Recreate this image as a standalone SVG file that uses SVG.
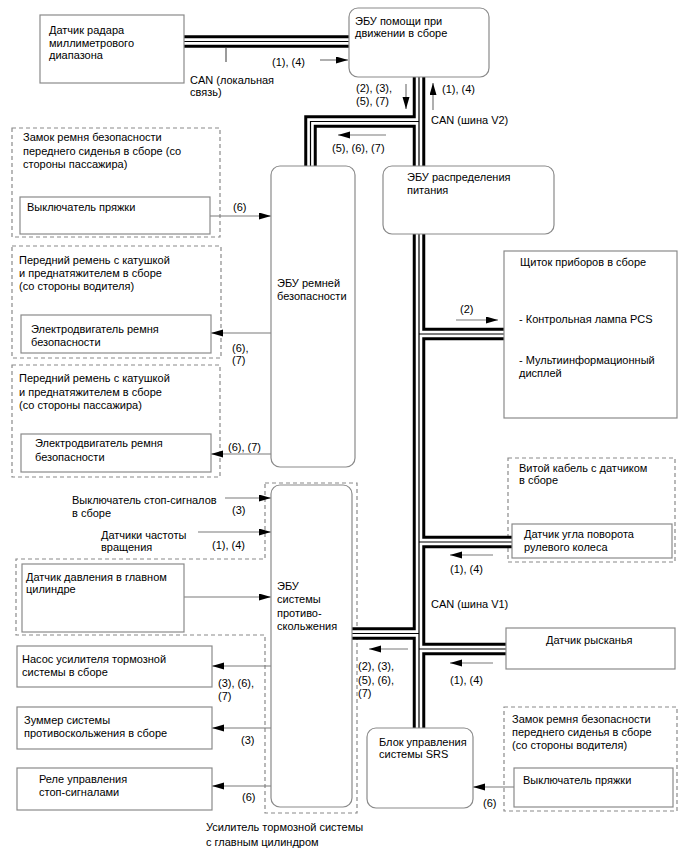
<svg xmlns="http://www.w3.org/2000/svg" xmlns:xlink="http://www.w3.org/1999/xlink" width="688" height="852" viewBox="0 0 688 852">
<style>
text { font-family: "Liberation Sans", Arial, sans-serif; font-size: 11px; fill: #000; }
.box { fill: #fff; stroke: #8a8a8a; stroke-width: 1.2; }
.dash { fill: none; stroke: #8a8a8a; stroke-width: 1.2; stroke-dasharray: 4 3; }
.arr { fill: none; stroke: #7a7a7a; stroke-width: 1.2; marker-end: url(#ah); }
.bo { fill: none; stroke: #000; stroke-width: 12.5; stroke-linejoin: miter; }
.bw { fill: none; stroke: #fff; stroke-width: 6.5; stroke-linejoin: miter; }
.bc { fill: none; stroke: #000; stroke-width: 1.2; stroke-linejoin: miter; }
.tick { stroke: #7a7a7a; stroke-width: 1.5; }
</style>
<defs>
<marker id="ah" markerUnits="userSpaceOnUse" markerWidth="13" markerHeight="8" refX="12" refY="3.5" orient="auto">
<path d="M0,0 L12,3.5 L0,7 z" fill="#000"/>
</marker>
<path id="busPath" d="M180,41.5 H352 M419,70 V735 M419,121.5 H310.5 V170 M419,334 H508 M419,542 H516 M419,649 H510 M419,633.5 H349"/>
</defs>
<rect width="688" height="852" fill="#fff"/>

<g id="dashed-groups">
<rect class="dash" x="12" y="128" width="208" height="109"/>
<rect class="dash" x="12" y="246" width="209" height="112"/>
<rect class="dash" x="12" y="365" width="208" height="112"/>
<rect class="dash" x="508" y="458" width="167" height="104"/>
<rect class="dash" x="504" y="707" width="173" height="104"/>
<path class="dash" d="M265,483 H357 V813 H265 V635 H16 V559 H265 Z"/>
</g>

<g id="connectors">
<use xlink:href="#busPath" class="bo"/>
<use xlink:href="#busPath" class="bw"/>
<use xlink:href="#busPath" class="bc"/>
<line class="tick" x1="226" y1="48" x2="226" y2="62"/>
<path class="arr" d="M320,60 H348"/>
<path class="arr" d="M406,84 V109"/>
<path class="arr" d="M433,110 V83"/>
<path class="arr" d="M386,135 H338"/>
<path class="arr" d="M210,216 H271"/>
<path class="arr" d="M271,333 H211"/>
<path class="arr" d="M271,454 H211"/>
<path class="arr" d="M456,320 H498"/>
<path class="arr" d="M493,555 H450"/>
<path class="arr" d="M493,663 H450"/>
<path class="arr" d="M408,649 H369"/>
<path class="arr" d="M514,787 H473"/>
<path class="arr" d="M225,498 H271"/>
<path class="arr" d="M198,532 H271"/>
<path class="arr" d="M184,597 H271"/>
<path class="arr" d="M271,666 H212"/>
<path class="arr" d="M271,728 H212"/>
<path class="arr" d="M271,786 H212"/>
</g>

<g id="labels">
<text x="190" y="84">CAN (локальная</text>
<text x="190" y="96">связь)</text>
<text x="272" y="66">(1), (4)</text>
<text x="356" y="92">(2), (3),</text>
<text x="356" y="104.5">(5), (7)</text>
<text x="442" y="93">(1), (4)</text>
<text x="431" y="124">CAN (шина V2)</text>
<text x="332" y="152">(5), (6), (7)</text>
<text x="233" y="211">(6)</text>
<text x="232" y="352">(6),</text>
<text x="232" y="364">(7)</text>
<text x="228" y="451">(6), (7)</text>
<text x="460" y="313">(2)</text>
<text x="450" y="573">(1), (4)</text>
<text x="431" y="608">CAN (шина V1)</text>
<text x="450" y="684">(1), (4)</text>
<text x="358" y="670">(2), (3),</text>
<text x="358" y="683.5">(5), (6),</text>
<text x="358" y="697">(7)</text>
<text x="483" y="807">(6)</text>
<text x="232" y="514">(3)</text>
<text x="212" y="549">(1), (4)</text>
<text x="218" y="687">(3), (6),</text>
<text x="218" y="700">(7)</text>
<text x="241" y="744">(3)</text>
<text x="242" y="801">(6)</text>
</g>

<g id="radar">
<rect class="box" x="40" y="15" width="144" height="68"/>
<text x="49" y="34">Датчик радара</text>
<text x="49" y="46.5">миллиметрового</text>
<text x="49" y="59">диапазона</text>
</g>

<g id="ecu-drive-assist">
<rect class="box" x="349" y="8" width="140" height="69" rx="9"/>
<text x="355" y="24.5">ЭБУ помощи при</text>
<text x="355" y="37">движении в сборе</text>
</g>

<g id="ecu-power">
<rect class="box" x="383" y="166" width="171" height="68" rx="9"/>
<text x="407" y="181">ЭБУ распределения</text>
<text x="407" y="194">питания</text>
</g>

<g id="ecu-seatbelt">
<rect class="box" x="271" y="166" width="84" height="301" rx="9"/>
<text x="277" y="287">ЭБУ ремней</text>
<text x="277" y="300">безопасности</text>
</g>

<g id="buckle-passenger">
<text x="23" y="141">Замок ремня безопасности</text>
<text x="23" y="154.5">переднего сиденья в сборе (со</text>
<text x="23" y="168">стороны пассажира)</text>
<rect class="box" x="20" y="197" width="190" height="37"/>
<text x="27" y="211">Выключатель пряжки</text>
</g>

<g id="belt-driver">
<text x="19" y="264">Передний ремень с катушкой</text>
<text x="19" y="277">и преднатяжителем в сборе</text>
<text x="19" y="290">(со стороны водителя)</text>
<rect class="box" x="21" y="315" width="190" height="38"/>
<text x="31" y="333">Электродвигатель ремня</text>
<text x="31" y="346">безопасности</text>
</g>

<g id="belt-passenger">
<text x="19" y="382">Передний ремень с катушкой</text>
<text x="19" y="396">и преднатяжителем в сборе</text>
<text x="19" y="409">(со стороны пассажира)</text>
<rect class="box" x="21" y="434" width="190" height="38"/>
<text x="35" y="447">Электродвигатель ремня</text>
<text x="35" y="461">безопасности</text>
</g>

<g id="instrument-cluster">
<rect class="box" x="504" y="251" width="173" height="167"/>
<text x="520" y="266">Щиток приборов в сборе</text>
<text x="519" y="323">- Контрольная лампа PCS</text>
<text x="519" y="364">- Мультиинформационный</text>
<text x="519" y="377">дисплей</text>
</g>

<g id="spiral-cable">
<text x="519" y="472">Витой кабель с датчиком</text>
<text x="519" y="484">в сборе</text>
<rect class="box" x="512" y="524" width="160" height="34"/>
<text x="524" y="538">Датчик угла поворота</text>
<text x="524" y="551">рулевого колеса</text>
</g>

<g id="yaw-sensor">
<rect class="box" x="506" y="628" width="169" height="41"/>
<text x="546" y="644">Датчик рысканья</text>
</g>

<g id="srs">
<rect class="box" x="367" y="728" width="106" height="80" rx="9"/>
<text x="379" y="746">Блок управления</text>
<text x="379" y="758">системы SRS</text>
</g>

<g id="buckle-driver">
<text x="512" y="723">Замок ремня безопасности</text>
<text x="512" y="736">переднего сиденья в сборе</text>
<text x="512" y="749">(со стороны водителя)</text>
<rect class="box" x="514" y="768" width="159" height="39"/>
<text x="523" y="784">Выключатель пряжки</text>
</g>

<g id="stop-switch">
<text x="72" y="504">Выключатель стоп-сигналов</text>
<text x="72" y="517">в сборе</text>
</g>

<g id="speed-sensors">
<text x="101" y="539">Датчики частоты</text>
<text x="101" y="551">вращения</text>
</g>

<g id="pressure-sensor">
<rect class="box" x="22" y="564" width="162" height="68"/>
<text x="26" y="581">Датчик давления в главном</text>
<text x="26" y="593">цилиндре</text>
</g>

<g id="ecu-abs">
<rect class="box" x="271" y="485" width="81" height="322" rx="9"/>
<text x="277" y="590">ЭБУ</text>
<text x="277" y="603">системы</text>
<text x="277" y="617">противо-</text>
<text x="277" y="630">скольжения</text>
</g>

<g id="pump">
<rect class="box" x="17" y="646" width="195" height="41"/>
<text x="22" y="663">Насос усилителя тормозной</text>
<text x="22" y="676">системы в сборе</text>
</g>

<g id="buzzer">
<rect class="box" x="17" y="707" width="195" height="42"/>
<text x="24" y="724">Зуммер системы</text>
<text x="24" y="737">противоскольжения в сборе</text>
</g>

<g id="relay">
<rect class="box" x="17" y="768" width="195" height="42"/>
<text x="39" y="783">Реле управления</text>
<text x="39" y="796">стоп-сигналами</text>
</g>

<g id="booster-label">
<text x="206" y="831">Усилитель тормозной системы</text>
<text x="206" y="846">с главным цилиндром</text>
</g>
</svg>
